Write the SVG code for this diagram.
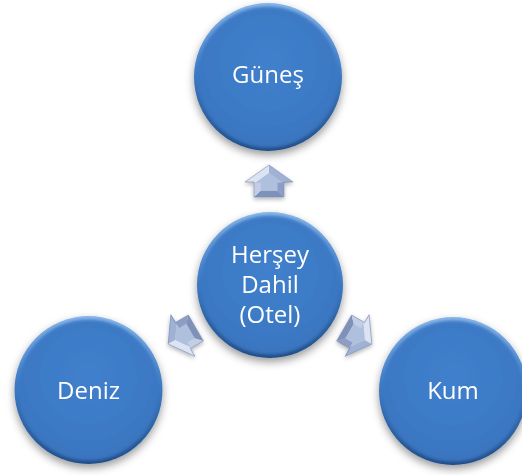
<svg xmlns="http://www.w3.org/2000/svg" width="522" height="475" viewBox="0 0 522 475">
<defs>
  <linearGradient id="rim" x1="0" y1="0" x2="0" y2="1">
    <stop offset="0" stop-color="#8ab8ea"/>
    <stop offset="0.45" stop-color="#3f7cc6"/>
    <stop offset="1" stop-color="#1f4d88"/>
  </linearGradient>
  <radialGradient id="face" cx="0.5" cy="0.4" r="0.6">
    <stop offset="0" stop-color="#4080cc"/>
    <stop offset="0.8" stop-color="#3b78c4"/>
    <stop offset="1" stop-color="#3a74bd"/>
  </radialGradient>
  <filter id="shadow" x="-20%" y="-20%" width="140%" height="150%">
    <feDropShadow dx="0" dy="4" stdDeviation="4" flood-color="#000" flood-opacity="0.4"/>
  </filter>
  <filter id="soft" x="-10%" y="-10%" width="120%" height="120%">
    <feGaussianBlur stdDeviation="1.6"/>
  </filter>
  <filter id="ashadow" x="-40%" y="-40%" width="180%" height="180%">
    <feDropShadow dx="0" dy="2" stdDeviation="2" flood-color="#000" flood-opacity="0.3"/>
  </filter>
  <g id="arrow">
    <polygon points="0,-16 24,1 13.2,1.45 0,-7.9" fill="#9fb1d4"/>
    <polygon points="24,1 15,1 8.25,1.45 13.2,1.45" fill="#7085ae"/>
    <polygon points="15,1 15,16 8.25,9.7 8.25,1.45" fill="#8c9ec5"/>
    <polygon points="15,16 -15,16 -8.25,9.7 8.25,9.7" fill="#7e91b9"/>
    <polygon points="-15,16 -15,1 -8.25,1.45 -8.25,9.7" fill="#c3cee6"/>
    <polygon points="-15,1 -24,1 -13.2,1.45 -8.25,1.45" fill="#8597bf"/>
    <polygon points="-24,1 0,-16 0,-7.9 -13.2,1.45" fill="#dce3f2"/>
    <polygon points="0,-7.9 13.2,1.45 8.25,1.45 8.25,9.7 -8.25,9.7 -8.25,1.45 -13.2,1.45" fill="#afbfde"/>
    <polygon points="0,-16 24,1 15,1 15,16 -15,16 -15,1 -24,1" fill="none" stroke="#7a8db4" stroke-width="0.6"/>
  </g>
</defs>
<style>
  .lbl { font-family: "Open Sans", "Noto Sans", sans-serif; font-size: 24px; fill: #ffffff; text-anchor: middle; }
</style>
<g id="connectors" filter="url(#ashadow)">
  <use href="#arrow" transform="translate(269,181)"/>
  <use href="#arrow" transform="translate(182,336) rotate(-120)"/>
  <use href="#arrow" transform="translate(358,336) rotate(120)"/>
</g>
<g id="node-gunes">
  <g filter="url(#shadow)">
    <circle cx="268" cy="77" r="74" fill="url(#rim)"/>
  </g>
  <circle cx="268" cy="77" r="70.5" fill="url(#face)" filter="url(#soft)"/>
  <text class="lbl" x="268" y="83">Güneş</text>
</g>
<g id="node-center">
  <g filter="url(#shadow)">
    <circle cx="270" cy="285" r="73" fill="url(#rim)"/>
  </g>
  <circle cx="270" cy="285" r="69.5" fill="url(#face)" filter="url(#soft)"/>
  <text class="lbl" x="270" y="263">Herşey</text>
  <text class="lbl" x="270" y="293">Dahil</text>
  <text class="lbl" x="270" y="323">(Otel)</text>
</g>
<g id="node-deniz">
  <g filter="url(#shadow)">
    <circle cx="88.5" cy="390" r="74" fill="url(#rim)"/>
  </g>
  <circle cx="88.5" cy="390" r="70.5" fill="url(#face)" filter="url(#soft)"/>
  <text class="lbl" x="88.5" y="399">Deniz</text>
</g>
<g id="node-kum">
  <g filter="url(#shadow)">
    <circle cx="453" cy="391" r="74" fill="url(#rim)"/>
  </g>
  <circle cx="453" cy="391" r="70.5" fill="url(#face)" filter="url(#soft)"/>
  <text class="lbl" x="453" y="399">Kum</text>
</g>
</svg>
